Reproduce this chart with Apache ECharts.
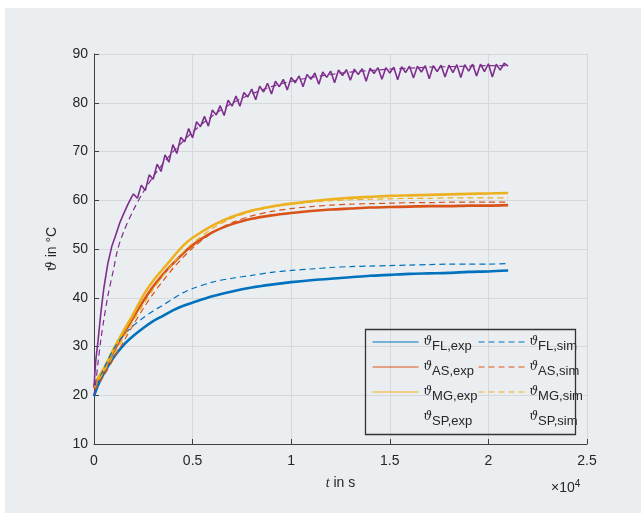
<!DOCTYPE html>
<html><head><meta charset="utf-8">
<script src="https://cdn.jsdelivr.net/npm/echarts@6/dist/echarts.min.js"></script>
<style>html,body{margin:0;padding:0;background:#fff}#c{width:641px;height:520px}</style>
</head><body><div id="c"></div>
<script>
// time in units of 10^4 s
const tC = [0,0.02,0.05,0.1,0.15,0.2,0.25,0.3,0.35,0.4,0.45,0.5,0.6,0.7,0.8,0.9,1.0,1.1,1.2,1.3,1.4,1.5,1.6,1.7,1.8,1.9,2.0,2.1];
const flExp = [19.8,22,24.5,27.8,30.3,32.2,33.8,35.2,36.3,37.4,38.3,39,40.3,41.3,42.1,42.7,43.2,43.6,43.9,44.2,44.5,44.7,44.9,45.0,45.1,45.3,45.4,45.6];
const flSim = [20,22.5,25.5,29.5,32.3,34.3,35.9,37.3,38.5,39.8,41.0,41.9,43.2,44.0,44.6,45.2,45.6,45.9,46.2,46.4,46.5,46.6,46.7,46.8,46.9,46.9,46.9,47.0];
const asExp = [21.5,23,25,29,32.6,36,39.3,42.3,44.8,47,49,50.8,53.4,55.1,56.2,56.9,57.4,57.8,58.1,58.3,58.5,58.6,58.7,58.8,58.8,58.9,58.9,59.0];
const asSim = [21,22,24,27.5,31,34.5,37.8,40.8,43.5,46,48.2,50.2,53.3,55.4,56.8,57.7,58.3,58.7,59,59.2,59.3,59.4,59.5,59.5,59.6,59.6,59.6,59.6];
const mgExp = [22,23.5,25.5,29.5,33.2,36.7,40.5,43.5,45.9,48.3,50.6,52.3,54.8,56.6,57.9,58.7,59.3,59.8,60.2,60.5,60.7,60.9,61.0,61.1,61.2,61.3,61.4,61.5];
const mgSim = [21.5,22.8,24.8,28.3,31.8,35.3,38.6,41.7,44.5,47,49.3,51.2,54.2,56.3,57.7,58.6,59.2,59.6,59.9,60.1,60.2,60.3,60.4,60.4,60.5,60.5,60.5,60.5];
const tSpSim = [0,0.01,0.02,0.035,0.05,0.07,0.1,0.12,0.15,0.2,0.25,0.3,0.35,0.4,0.45,0.5,0.6,0.7,0.8,0.9,1.0,1.1,1.2,1.3,1.4,1.5,1.6,1.7,1.8,1.9,2.0,2.1];
const spSim = [20,23,26.5,31.5,35.5,40.3,46,49.9,53.5,58,61.7,64.8,67.5,69.9,72,74,77.3,79.9,81.8,83.3,84.4,85.2,85.8,86.3,86.6,86.9,87.1,87.3,87.4,87.5,87.6,87.6];
const tSp = [0,0.005,0.01,0.02,0.035,0.05,0.07,0.09,0.11,0.13,0.15,0.17,0.19,
0.20,0.22,0.24,0.26,0.28,0.30,0.32,0.34,0.36,0.38,0.40,0.42,0.44,0.46,0.48,0.50,0.52,0.54,0.56,0.58,
0.60,0.62,0.64,0.66,0.68,0.70,0.72,0.74,0.76,0.78,0.80,0.82,0.84,0.86,0.88,0.90,0.92,0.94,0.96,0.98,
1.00,1.02,1.04,1.06,1.08,1.10,1.12,1.14,1.16,1.18,1.20,1.22,1.24,1.26,1.28,1.30,1.32,1.34,1.36,1.38,
1.40,1.42,1.44,1.46,1.48,1.50,1.52,1.54,1.56,1.58,1.60,1.62,1.64,1.66,1.68,1.70,1.72,1.74,1.76,1.78,
1.80,1.82,1.84,1.86,1.88,1.90,1.92,1.94,1.96,1.98,2.00,2.02,2.04,2.06,2.08,2.10];
const spExp = [21.5,25,27.5,31,37,42,47,50.5,52.8,55.3,57.2,59.0,60.6,
61.3,60.4,63.1,62.0,65.2,64.3,67.4,65.9,69.3,67.8,71.4,69.6,72.9,72.0,74.7,72.8,76.1,75.1,77.2,75.2,
78.5,77.5,79.4,77.4,80.5,79.3,81.4,79.3,82.1,81.2,82.8,80.6,83.4,82.2,84.0,81.8,84.4,83.3,84.8,82.6,
85.2,84.1,85.5,83.3,85.8,84.8,86.1,83.8,86.3,85.2,86.5,84.1,86.7,85.6,86.8,84.6,86.9,85.8,87.0,84.4,
87.1,86.0,87.2,84.8,87.2,86.1,87.3,84.7,87.4,86.2,87.5,85.1,87.5,86.3,87.6,84.9,87.6,86.4,87.7,85.3,
87.7,86.2,87.8,85.2,87.8,86.5,87.9,85.5,87.9,86.4,88.0,85.3,87.9,86.7,88.1,87.5];
const xTicks = ['0','0.5','1','1.5','2','2.5'];

const C = {blue:'#0072BD', red:'#D95319', yellow:'#EDB120', purple:'#7E2F8E'};
const zip = (t, v) => t.map((x, i) => [x, v[i]]);

function line(name, t, v, color, dashed, width, smooth) {
  return {
    name, type: 'line', data: zip(t, v), showSymbol: false, symbol: 'none',
    smooth: smooth,
    lineStyle: {color, width, type: dashed ? [6, 4] : 'solid'},
    itemStyle: {color}, animation: false, silent: true
  };
}

const rich = {
  v: {fontSize: 12, fontStyle: 'italic', fontFamily: 'DejaVu Serif', lineHeight: 22, padding: [0, 0, 0, 0], color: '#262626'},
  s: {fontSize: 13, fontFamily: 'Liberation Sans', lineHeight: 22, padding: [9, 0, 0, 0], color: '#262626'}
};
const legendBase = {
  orient: 'vertical', itemWidth: 46, itemHeight: 12, itemGap: 3, top: 326,
  formatter: n => '{v|ϑ}{s|' + n + '}',
  textStyle: {rich},
  itemStyle: {opacity: 0},
  lineStyle: {width: 1}
};

const chart = echarts.init(document.getElementById('c'));
chart.setOption({
  backgroundColor: '#ebeef0',
  animation: false,
  grid: {left: 94, right: 54, top: 54, bottom: 76, containLabel: false, outerBoundsMode: 'none'},
  xAxis: {
    type: 'value', min: 0, max: 2.5, interval: 0.5,
    axisLine: {show: true, lineStyle: {color: '#404040'}},
    axisTick: {inside: true, length: 5, lineStyle: {color: '#404040'}},
    axisLabel: {color: '#262626', fontSize: 14, fontFamily: 'Liberation Sans', margin: 10,
      formatter: (v) => xTicks[Math.round(v / 0.5)]},
    splitLine: {show: true, lineStyle: {color: '#d6d9da'}},
    name: '{i|t} in s', nameLocation: 'middle', nameGap: 32,
    nameTextStyle: {color: '#262626', fontSize: 14, fontFamily: 'Liberation Sans',
      rich: {i: {fontStyle: 'italic', fontSize: 14, fontFamily: 'Liberation Serif', color: '#262626'}}}
  },
  yAxis: {
    type: 'value', min: 10, max: 90, interval: 10,
    axisLine: {show: true, lineStyle: {color: '#404040'}},
    axisTick: {show: true, inside: true, length: 5, lineStyle: {color: '#404040'}},
    axisLabel: {color: '#262626', fontSize: 14, fontFamily: 'Liberation Sans', margin: 6},
    splitLine: {show: true, lineStyle: {color: '#d6d9da'}},
    name: '{i|ϑ} in °C', nameLocation: 'middle', nameGap: 35,
    nameTextStyle: {color: '#262626', fontSize: 14, fontFamily: 'Liberation Sans',
      rich: {i: {fontStyle: 'italic', fontSize: 14, fontFamily: 'DejaVu Serif', color: '#262626'}}}
  },
  legend: [
    Object.assign({}, legendBase, {left: 367,
      data: ['FL,exp', 'AS,exp', 'MG,exp',
        {name: 'SP,exp', itemStyle: {opacity: 0}, lineStyle: {opacity: 0}}]}),
    Object.assign({}, legendBase, {left: 473,
      data: ['FL,sim', 'AS,sim', 'MG,sim',
        {name: 'SP,sim', itemStyle: {opacity: 0}, lineStyle: {opacity: 0}}]})
  ],
  graphic: [
    {type: 'rect', left: 0, top: 0, shape: {width: 5, height: 520}, style: {fill: '#fff'}, silent: true},
    {type: 'rect', left: 0, top: 0, shape: {width: 641, height: 8}, style: {fill: '#fff'}, silent: true},
    {type: 'rect', left: 0, top: 513, shape: {width: 641, height: 7}, style: {fill: '#fff'}, silent: true},
    {type: 'rect', left: 363, top: 327, shape: {width: 210, height: 105},
      style: {fill: 'none', stroke: '#333', lineWidth: 1.3}, silent: true, z: 100},
    {type: 'text', left: 551, top: 479, silent: true,
      style: {text: '×10{p|4}', fontSize: 14, fontFamily: 'Liberation Sans', fill: '#262626',
        rich: {p: {fontSize: 10, verticalAlign: 'top', padding: [0, 0, 8, 0], fill: '#262626'}}}}
  ],
  series: [
    line('FL,exp', tC, flExp, C.blue, false, 2.6, 0.3),
    line('AS,exp', tC, asExp, C.red, false, 2.6, 0.3),
    line('MG,exp', tC, mgExp, C.yellow, false, 2.6, 0.3),
    line('SP,exp', tSp, spExp, C.purple, false, 1.6, false),
    line('FL,sim', tC, flSim, C.blue, true, 1.2, 0.3),
    line('AS,sim', tC, asSim, C.red, true, 1.2, 0.3),
    line('MG,sim', tC, mgSim, C.yellow, true, 1.2, 0.3),
    line('SP,sim', tSpSim, spSim, C.purple, true, 1.2, 0.3)
  ]
});
</script></body></html>
